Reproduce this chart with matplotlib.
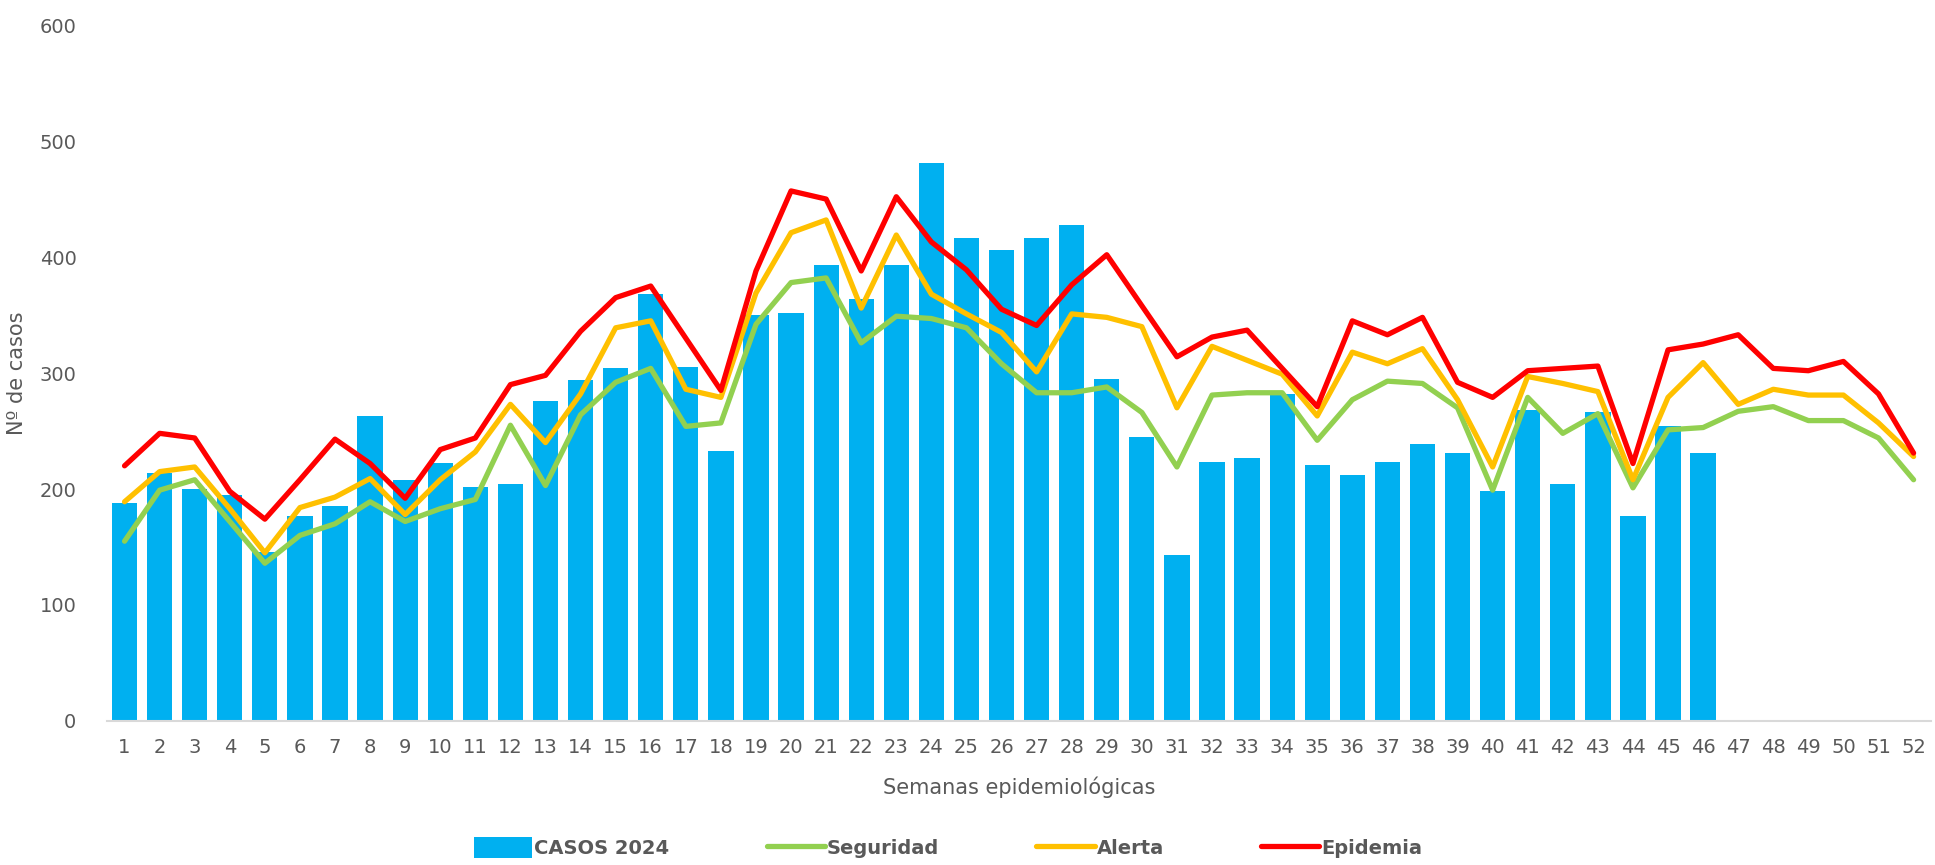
import numpy as np
import matplotlib
matplotlib.use("Agg")
import matplotlib.pyplot as plt

# --- data ---
semanas = list(range(1, 53))

casos_2024 = [188, 214, 200, 195, 146, 177, 185, 263, 208, 222,
              202, 204, 276, 294, 304, 368, 305, 233, 350, 352,
              393, 364, 393, 481, 416, 406, 416, 428, 295, 245,
              143, 223, 227, 282, 221, 212, 223, 239, 231, 198,
              268, 204, 266, 177, 254, 231]

seguridad = [155, 199, 208, 172, 136, 160, 170, 189, 172, 183,
             191, 255, 203, 264, 292, 304, 254, 257, 342, 378,
             382, 326, 349, 347, 339, 308, 283, 283, 288, 266,
             219, 281, 283, 283, 242, 277, 293, 291, 270, 199,
             279, 248, 265, 201, 251, 253, 267, 271, 259, 259,
             244, 208]

alerta = [189, 215, 219, 183, 145, 184, 193, 209, 178, 208,
          232, 273, 240, 282, 339, 345, 286, 279, 369, 421,
          432, 356, 419, 368, 351, 335, 301, 351, 348, 340,
          270, 323, 311, 299, 263, 318, 308, 321, 277, 219,
          297, 291, 284, 208, 279, 309, 273, 286, 281, 281,
          257, 228]

epidemia = [220, 248, 244, 198, 174, 208, 243, 222, 192, 234,
            244, 290, 298, 336, 365, 375, 330, 285, 388, 457,
            450, 388, 452, 413, 389, 355, 341, 376, 402, 358,
            314, 331, 337, 304, 271, 345, 333, 348, 292, 279,
            302, 304, 306, 222, 320, 325, 333, 304, 302, 310,
            282, 231]

gris = "#595959"

fig = plt.figure(figsize=(19.35, 8.65), dpi=100)
ax = fig.add_axes([0.0553, 0.1665, 0.9427, 0.8045])

x_bar = semanas[:len(casos_2024)]
barras = ax.bar(x_bar, casos_2024, width=0.72, color="#00b0f0", label="CASOS 2024", zorder=2)
l1, = ax.plot(semanas, seguridad, color="#92d050", lw=3.8, label="Seguridad", zorder=3,
              solid_joinstyle="round", solid_capstyle="round")
l2, = ax.plot(semanas, alerta, color="#ffc000", lw=3.8, label="Alerta", zorder=4,
              solid_joinstyle="round", solid_capstyle="round")
l3, = ax.plot(semanas, epidemia, color="#ff0000", lw=3.8, label="Epidemia", zorder=5,
              solid_joinstyle="round", solid_capstyle="round")

ax.set_xlim(0.5, 52.5)
ax.set_ylim(0, 600)
ax.set_yticks(range(0, 601, 100))
ax.set_xticks(semanas)
ax.set_xticklabels([str(s) for s in semanas])
ax.tick_params(axis="both", length=0, labelsize=14, colors=gris)
ax.tick_params(axis="y", pad=22)
ax.tick_params(axis="x", pad=12)

for s in ["top", "right", "left"]:
    ax.spines[s].set_visible(False)
ax.spines["bottom"].set_color("#d9d9d9")
ax.spines["bottom"].set_linewidth(1.5)

ax.set_xlabel("Semanas epidemiológicas", fontsize=15, color=gris, labelpad=14)
ax.set_ylabel("Nº de casos", fontsize=15, color=gris)
ax.yaxis.set_label_coords(-0.044, 0.5)

leg = fig.legend([barras, l1, l2, l3], ["CASOS 2024", "Seguridad", "Alerta", "Epidemia"],
                 loc="center", bbox_to_anchor=(0.49, 0.02), ncol=4, frameon=False,
                 handlelength=3.0, handleheight=1.3, columnspacing=5.0, handletextpad=0.1,
                 prop={"family": ["Liberation Sans Narrow", "DejaVu Sans"],
                       "weight": "bold", "size": 14})
for t in leg.get_texts():
    t.set_color(gris)

fig.savefig("out.png", dpi=100)
